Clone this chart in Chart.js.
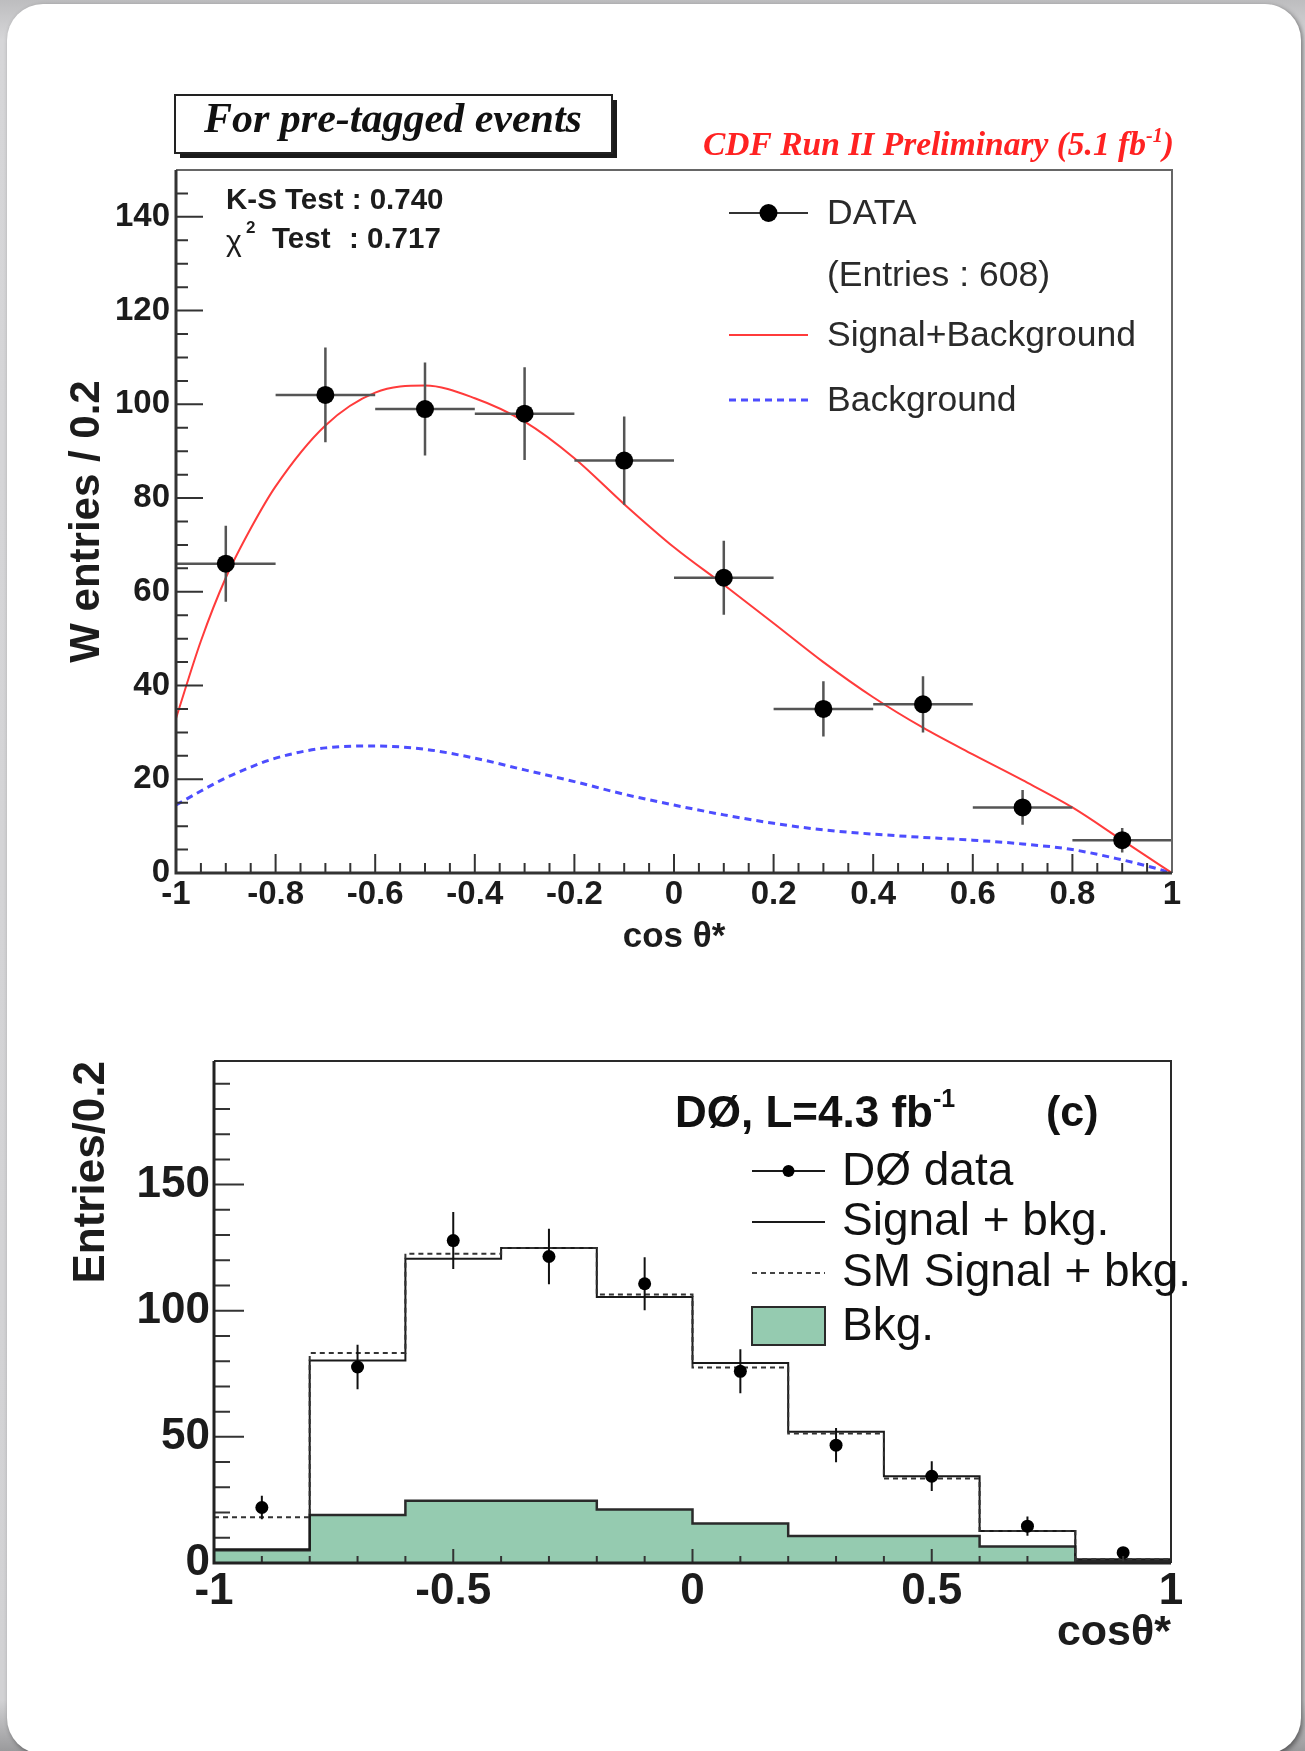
<!DOCTYPE html>
<html>
<head>
<meta charset="utf-8">
<title>W helicity: cos theta*</title>
<script src="https://cdn.jsdelivr.net/npm/chart.js@4.4.1/dist/chart.umd.min.js"></script>
<style>
  html, body { margin: 0; padding: 0; }
  body {
    width: 1305px; height: 1751px; position: relative; overflow: hidden;
    background: linear-gradient(#bdbdbf, #d6d6d8 40px, #d2d2d4 1700px, #9a9a9c);
  }
  .card {
    position: absolute; left: 7px; top: 4px; width: 1294px; height: 1750px;
    background: #fff; border-radius: 36px;
    box-shadow: 2px 2px 5px rgba(0, 0, 0, 0.45);
  }
  canvas { position: absolute; left: 0; }
  #cdf { top: 0; }
  #d0 { top: 980px; }
</style>
</head>
<body>
<div class="card"></div>
<canvas id="cdf" width="1305" height="980"></canvas>
<canvas id="d0" width="1305" height="771"></canvas>
<script>
// cos(theta*) binning, width 0.2
const binCenters = [-0.9, -0.7, -0.5, -0.3, -0.1, 0.1, 0.3, 0.5, 0.7, 0.9];
const binEdges = [-1, -0.8, -0.6, -0.4, -0.2, 0, 0.2, 0.4, 0.6, 0.8, 1];

// CDF, pre-tagged events
const cdfData = [66, 102, 99, 98, 88, 63, 35, 36, 14, 7];
const cdfErr = [8.1, 10.1, 9.9, 9.9, 9.4, 7.9, 5.9, 6.0, 3.7, 2.6];
const fitX = [-1, -0.95, -0.9, -0.85, -0.8, -0.7, -0.6, -0.5, -0.4, -0.3, -0.2, -0.1,
              0, 0.1, 0.2, 0.3, 0.4, 0.5, 0.6, 0.7, 0.8, 0.9, 0.95, 1];
const fitSigBkg = [33, 49.5, 63, 73.5, 82.5, 95.5, 102.5, 104, 101.3, 96.3, 88.5, 78.7,
                   69.5, 61.5, 53.3, 45, 37.5, 31, 25.3, 19.8, 14, 7, 3.5, 0];
const fitBkg = [14.5, 17.5, 20.3, 22.6, 24.5, 26.7, 27.1, 26.4, 24.5, 22, 19.5, 16.8,
                14.5, 12.4, 10.6, 9.2, 8.3, 7.6, 7, 6.2, 5, 2.8, 1.5, 0];
const cdfXTicks = [-1, -0.8, -0.6, -0.4, -0.2, 0, 0.2, 0.4, 0.6, 0.8, 1];
const cdfXLabels = ['-1', '-0.8', '-0.6', '-0.4', '-0.2', '0', '0.2', '0.4', '0.6', '0.8', '1'];
const cdfYTicks = [0, 20, 40, 60, 80, 100, 120, 140];

// D0, 4.3 fb-1
const d0Data = [22, 77.7, 127.8, 121.5, 110.7, 76, 46.7, 34.4, 14.6, 4.1];
const d0Err = [4.7, 8.8, 11.3, 11.0, 10.5, 8.7, 6.8, 5.9, 3.8, 2.0];
const d0SigBkg = [5.5, 80.3, 120.6, 124.9, 105.4, 79.3, 52, 34.4, 12.7, 1.5];
const d0SmSigBkg = [18.1, 83.2, 122.6, 124.9, 106.4, 77.5, 51.3, 33.5, 12.7, 1.5];
const d0Bkg = [5.1, 19, 24.7, 24.7, 21.2, 15.7, 10.7, 10.7, 6.5, 0.9];
const d0XTicks = [-1, -0.5, 0, 0.5, 1];
const d0XLabels = ['-1', '-0.5', '0', '0.5', '1'];
const d0YTicks = [0, 50, 100, 150];

Chart.defaults.font.family = "'Liberation Sans', Arial, sans-serif";
Chart.defaults.color = '#1c1c1c';
Chart.defaults.animation = false;

const pts = (xs, ys) => xs.map((x, i) => ({ x, y: ys[i] }));
// histogram as a step line: one point per left edge, last bin closed at x = 1
const steps = vals => binEdges.map((x, i) => ({ x, y: vals[Math.min(i, vals.length - 1)] }));

// ROOT style frame with inward major/minor ticks
function frameTicks(o) {
  return {
    id: 'frameTicks',
    afterDraw(chart) {
      const { ctx, chartArea: a, scales: { x, y } } = chart;
      ctx.save();
      ctx.strokeStyle = o.tickColor;
      ctx.lineWidth = 2;
      ctx.beginPath();
      const nx = Math.round((x.max - x.min) / o.xMinor);
      for (let k = 0; k <= nx; k++) {
        const px = x.getPixelForValue(x.min + k * o.xMinor);
        const len = k % o.xEvery === 0 ? o.xMajorLen : o.xMinorLen;
        ctx.moveTo(px, a.bottom);
        ctx.lineTo(px, a.bottom - len);
      }
      const ny = Math.floor((y.max - y.min) / o.yMinor + 1e-6);
      for (let k = 0; k <= ny; k++) {
        const py = y.getPixelForValue(y.min + k * o.yMinor);
        const len = k % o.yEvery === 0 ? o.yMajorLen : o.yMinorLen;
        ctx.moveTo(a.left, py);
        ctx.lineTo(a.left + len, py);
      }
      ctx.stroke();

      ctx.strokeStyle = o.frameColor;
      ctx.lineWidth = o.frameWidth;
      ctx.beginPath();
      ctx.moveTo(a.left, a.top);
      ctx.lineTo(a.right, a.top);
      ctx.lineTo(a.right, a.bottom);
      ctx.stroke();

      ctx.strokeStyle = o.axisColor;
      ctx.lineWidth = o.axisWidth;
      ctx.beginPath();
      ctx.moveTo(a.left, a.top);
      ctx.lineTo(a.left, a.bottom);
      ctx.lineTo(a.right, a.bottom);
      ctx.stroke();
      ctx.restore();
    }
  };
}

// error bars drawn just under the data markers (dataset 0)
function errorBars(values, errors, o) {
  return {
    id: 'errorBars',
    beforeDatasetDraw(chart, args) {
      if (args.index !== 0) return;
      const { ctx, scales: { x, y } } = chart;
      ctx.save();
      ctx.strokeStyle = o.color;
      ctx.lineWidth = o.width;
      ctx.beginPath();
      values.forEach((v, i) => {
        const px = x.getPixelForValue(binCenters[i]);
        const py = y.getPixelForValue(v);
        ctx.moveTo(px, y.getPixelForValue(v - errors[i]));
        ctx.lineTo(px, y.getPixelForValue(v + errors[i]));
        if (o.halfWidth) {
          ctx.moveTo(x.getPixelForValue(binCenters[i] - o.halfWidth), py);
          ctx.lineTo(x.getPixelForValue(binCenters[i] + o.halfWidth), py);
        }
      });
      ctx.stroke();
      ctx.restore();
    }
  };
}

function superText(ctx, parts, x, y) {
  // parts: [text, font, dy]
  parts.forEach(([t, f, dy]) => {
    ctx.font = f;
    ctx.fillText(t, x, y + dy);
    x += ctx.measureText(t).width;
  });
  return x;
}

const cdfNotes = {
  id: 'cdfNotes',
  afterDraw(chart) {
    const ctx = chart.ctx;
    ctx.save();
    // title box with drop shadow
    ctx.fillStyle = '#1a1a1a';
    ctx.fillRect(180, 100, 437, 58);
    ctx.fillStyle = '#fff';
    ctx.fillRect(175, 95, 437, 58);
    ctx.strokeStyle = '#222';
    ctx.lineWidth = 2;
    ctx.strokeRect(175, 95, 437, 58);
    ctx.fillStyle = '#111';
    ctx.textBaseline = 'alphabetic';
    ctx.font = "italic bold 42px 'Liberation Serif', serif";
    ctx.fillText('For pre-tagged events', 204, 132);

    ctx.fillStyle = '#f22';
    superText(ctx, [
      ['CDF Run II Preliminary (5.1 fb', "italic bold 33.5px 'Liberation Serif', serif", 0],
      ['-1', "italic bold 20px 'Liberation Serif', serif", -13],
      [')', "italic bold 33.5px 'Liberation Serif', serif", 0]
    ], 703, 155);

    // fit-quality numbers
    ctx.fillStyle = '#1c1c1c';
    ctx.textBaseline = 'middle';
    ctx.font = "bold 29.5px 'Liberation Sans', Arial, sans-serif";
    ctx.fillText('K-S Test : 0.740', 226, 201);
    ctx.font = "30px 'Liberation Sans', Arial, sans-serif";
    ctx.fillText('χ', 226, 243);
    ctx.font = "bold 17px 'Liberation Sans', Arial, sans-serif";
    ctx.fillText('2', 246, 228);
    ctx.font = "bold 29.5px 'Liberation Sans', Arial, sans-serif";
    ctx.fillText('Test', 272, 240);
    ctx.fillText(': 0.717', 349, 240);

    // legend
    ctx.font = "35.5px 'Liberation Sans', Arial, sans-serif";
    ctx.fillStyle = '#2a2a2a';
    ctx.fillText('DATA', 827, 214);
    ctx.fillText('(Entries : 608)', 827, 276);
    ctx.fillText('Signal+Background', 827, 336);
    ctx.fillText('Background', 827, 401);
    ctx.lineWidth = 2;
    ctx.strokeStyle = '#333';
    ctx.beginPath(); ctx.moveTo(729, 213); ctx.lineTo(808, 213); ctx.stroke();
    ctx.fillStyle = '#000';
    ctx.beginPath(); ctx.arc(768.5, 213, 9, 0, Math.PI * 2); ctx.fill();
    ctx.strokeStyle = '#ff3b3b';
    ctx.beginPath(); ctx.moveTo(729, 335); ctx.lineTo(808, 335); ctx.stroke();
    ctx.strokeStyle = '#4d4dff';
    ctx.lineWidth = 3;
    ctx.setLineDash([7, 5]);
    ctx.beginPath(); ctx.moveTo(729, 400); ctx.lineTo(808, 400); ctx.stroke();
    ctx.restore();
  }
};

new Chart(document.getElementById('cdf'), {
  type: 'line',
  data: {
    datasets: [
      { label: 'DATA', data: pts(binCenters, cdfData), showLine: false,
        pointRadius: 9, pointBackgroundColor: '#000', pointBorderWidth: 0 },
      { label: 'Signal+Background', data: pts(fitX, fitSigBkg), borderColor: '#ff3b3b',
        borderWidth: 2, pointRadius: 0, cubicInterpolationMode: 'monotone' },
      { label: 'Background', data: pts(fitX, fitBkg), borderColor: '#4d4dff',
        borderWidth: 3, borderDash: [7, 5], pointRadius: 0, cubicInterpolationMode: 'monotone' }
    ]
  },
  options: {
    responsive: false,
    events: [],
    layout: { padding: { left: 56, right: 133, top: 170, bottom: 17 } },
    plugins: { legend: { display: false }, tooltip: { enabled: false } },
    scales: {
      x: {
        type: 'linear', min: -1, max: 1,
        afterFit: s => { s.height = 90; },
        afterBuildTicks: s => { s.ticks = cdfXTicks.map(value => ({ value })); },
        ticks: { callback: (v, i) => cdfXLabels[i], font: { size: 33, weight: 'bold' },
                 padding: 2, maxRotation: 0, autoSkip: false },
        grid: { display: false, drawTicks: false },
        border: { display: false },
        title: { display: true, text: 'cos θ*', font: { size: 35, weight: 'bold' },
                 padding: { top: 0, bottom: 5 } }
      },
      y: {
        type: 'linear', min: 0, max: 150,
        afterFit: s => { s.width = 120; },
        afterBuildTicks: s => { s.ticks = cdfYTicks.map(value => ({ value })); },
        ticks: { font: { size: 33, weight: 'bold' }, padding: 6 },
        grid: { display: false, drawTicks: false },
        border: { display: false },
        title: { display: true, text: 'W entries / 0.2', font: { size: 42, weight: 'bold' },
                 padding: { top: 6, bottom: 0 } }
      }
    }
  },
  plugins: [
    errorBars(cdfData, cdfErr, { color: '#555', width: 2.5, halfWidth: 0.1 }),
    frameTicks({ xMinor: 0.05, xEvery: 4, xMajorLen: 19, xMinorLen: 10,
                 yMinor: 5, yEvery: 4, yMajorLen: 27, yMinorLen: 12,
                 tickColor: '#333', frameColor: '#666', frameWidth: 2,
                 axisColor: '#333', axisWidth: 3 }),
    cdfNotes
  ]
});

const d0Notes = {
  id: 'd0Notes',
  afterDraw(chart) {
    const ctx = chart.ctx;
    ctx.save();
    ctx.fillStyle = '#111';
    ctx.textBaseline = 'alphabetic';
    superText(ctx, [
      ['DØ, L=4.3 fb', "bold 44px 'Liberation Sans', Arial, sans-serif", 0],
      ['-1', "bold 25px 'Liberation Sans', Arial, sans-serif", -20]
    ], 675, 147);
    ctx.font = "bold 43px 'Liberation Sans', Arial, sans-serif";
    ctx.fillText('(c)', 1046, 146);

    ctx.textBaseline = 'middle';
    ctx.font = "46px 'Liberation Sans', Arial, sans-serif";
    ctx.fillText('DØ data', 842, 192);
    ctx.fillText('Signal + bkg.', 842, 242);
    ctx.fillText('SM Signal + bkg.', 842, 293);
    ctx.fillText('Bkg.', 842, 347);

    ctx.lineWidth = 2;
    ctx.strokeStyle = '#1a1a1a';
    ctx.beginPath(); ctx.moveTo(752, 191); ctx.lineTo(825, 191); ctx.stroke();
    ctx.fillStyle = '#000';
    ctx.beginPath(); ctx.arc(788.5, 191, 6, 0, Math.PI * 2); ctx.fill();
    ctx.beginPath(); ctx.moveTo(752, 242); ctx.lineTo(825, 242); ctx.stroke();
    ctx.strokeStyle = '#444';
    ctx.setLineDash([5, 4]);
    ctx.beginPath(); ctx.moveTo(752, 293); ctx.lineTo(825, 293); ctx.stroke();
    ctx.setLineDash([]);
    ctx.fillStyle = '#95cbb0';
    ctx.fillRect(752, 327, 73, 38);
    ctx.strokeStyle = '#2a2a2a';
    ctx.strokeRect(752, 327, 73, 38);
    ctx.restore();
  }
};

new Chart(document.getElementById('d0'), {
  type: 'line',
  data: {
    datasets: [
      { label: 'DØ data', data: pts(binCenters, d0Data), showLine: false,
        pointRadius: 6.5, pointBackgroundColor: '#000', pointBorderWidth: 0 },
      { label: 'SM Signal + bkg.', data: steps(d0SmSigBkg), stepped: true,
        borderColor: '#333', borderWidth: 2, borderDash: [5, 4], pointRadius: 0 },
      { label: 'Signal + bkg.', data: steps(d0SigBkg), stepped: true,
        borderColor: '#1a1a1a', borderWidth: 2, pointRadius: 0 },
      { label: 'Bkg.', data: steps(d0Bkg), stepped: true, fill: 'origin',
        backgroundColor: '#95cbb0', borderColor: '#2a2a2a', borderWidth: 2.5, pointRadius: 0 }
    ]
  },
  options: {
    responsive: false,
    events: [],
    layout: { padding: { left: 64, right: 134, top: 81, bottom: 88 } },
    plugins: { legend: { display: false }, tooltip: { enabled: false } },
    scales: {
      x: {
        type: 'linear', min: -1, max: 1,
        afterFit: s => { s.height = 100; },
        afterBuildTicks: s => { s.ticks = d0XTicks.map(value => ({ value })); },
        ticks: { callback: (v, i) => d0XLabels[i], font: { size: 44, weight: 'bold' },
                 padding: 2, maxRotation: 0, autoSkip: false },
        grid: { display: false, drawTicks: false },
        border: { display: false },
        title: { display: true, text: 'cosθ*', align: 'end', font: { size: 43, weight: 'bold' },
                 padding: { top: 0, bottom: 4 } }
      },
      y: {
        type: 'linear', min: 0, max: 199,
        afterFit: s => { s.width = 150; },
        afterBuildTicks: s => { s.ticks = d0YTicks.map(value => ({ value })); },
        ticks: { font: { size: 44, weight: 'bold' }, padding: 4 },
        grid: { display: false, drawTicks: false },
        border: { display: false },
        title: { display: true, text: 'Entries/0.2', align: 'end', font: { size: 44, weight: 'bold' },
                 padding: { top: 1, bottom: 0 } }
      }
    }
  },
  plugins: [
    errorBars(d0Data, d0Err, { color: '#111', width: 2 }),
    frameTicks({ xMinor: 0.1, xEvery: 5, xMajorLen: 14, xMinorLen: 7,
                 yMinor: 10, yEvery: 5, yMajorLen: 30, yMinorLen: 16,
                 tickColor: '#333', frameColor: '#2a2a2a', frameWidth: 2,
                 axisColor: '#222', axisWidth: 3 }),
    d0Notes
  ]
});
</script>
</body>
</html>
